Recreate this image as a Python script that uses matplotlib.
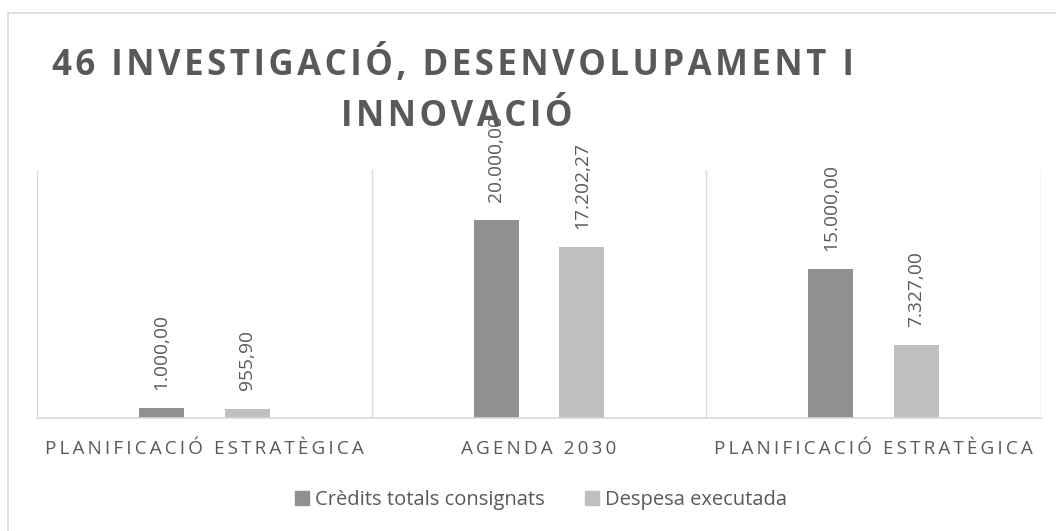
import matplotlib
matplotlib.use("Agg")
import matplotlib.pyplot as plt
from matplotlib.patches import Rectangle, Patch

categories = ["PLANIFICACIÓ ESTRATÈGICA", "AGENDA 2030", "PLANIFICACIÓ ESTRATÈGICA"]
credits = [1000.00, 20000.00, 15000.00]
spent = [955.90, 17202.27, 7327.00]
series_names = ["Crèdits totals consignats", "Despesa executada"]
title_lines = ["46 INVESTIGACIÓ, DESENVOLUPAMENT I", "INNOVACIÓ"]

DARK = "#909090"
LIGHT = "#bfbfbf"
TXT = "#595959"
LINE = "#d9d9d9"
FONT = "Open Sans"

def spaced(s, sep="\u2009"):
    return sep.join(list(s))

def fmt(v):
    s = f"{v:,.2f}"
    return s.replace(",", "X").replace(".", ",").replace("X", ".")

fig = plt.figure(figsize=(10.56, 5.31), dpi=100)
ax = fig.add_axes([37/1056, 1-418/531, (1041-37)/1056, (418-170)/531])

x = list(range(len(categories)))
w = 0.134
off = 0.128
b1 = ax.bar([i - off for i in x], credits, width=w, color=DARK, zorder=2)
b2 = ax.bar([i + off for i in x], spent, width=w, color=LIGHT, zorder=2)

for bars, vals in ((b1, credits), (b2, spent)):
    for rect, v in zip(bars, vals):
        ax.annotate(fmt(v), (rect.get_x() + rect.get_width()/2, rect.get_height()),
                    xytext=(0, 13), textcoords="offset points", rotation=90,
                    ha="center", va="bottom", fontsize=13.8, color=TXT,
                    family=FONT, annotation_clip=False)

ax.set_xlim(-0.5, len(categories) - 0.5)
ax.set_ylim(0, 25000)
ax.set_yticks([])
ax.set_xticks(x)
ax.set_xticklabels([spaced(c) for c in categories], family=FONT, fontsize=13.6, color=TXT)
ax.tick_params(axis="x", length=0, pad=16)
for sp in ("top", "right", "left"):
    ax.spines[sp].set_visible(False)
ax.spines["bottom"].set_color(LINE)
ax.spines["bottom"].set_linewidth(1.2)
for b in [i - 0.5 for i in range(len(categories) + 1)]:
    ax.axvline(b, color=LINE, lw=1.0, zorder=1)

# chart border
fig.patches.append(Rectangle((8/1056, -0.1), 1.2, (531-13)/531 + 0.1, transform=fig.transFigure,
                             fill=False, edgecolor=LINE, lw=1.2))

# title
fig.text(453/1056, 1-75/531, spaced(title_lines[0], "\u200a"), ha="center", va="baseline",
         family=FONT, fontweight="bold", fontsize=25, color=TXT)
fig.text(457/1056, 1-126/531, spaced(title_lines[1], "\u200a"), ha="center", va="baseline",
         family=FONT, fontweight="bold", fontsize=25, color=TXT)

handles = [Patch(color=DARK), Patch(color=LIGHT)]
leg = fig.legend(handles, series_names, loc="center", bbox_to_anchor=(541/1056, 1-500/531),
                 ncol=2, frameon=False, handlelength=0.7, handleheight=0.7,
                 handletextpad=0.3, columnspacing=2.0,
                 prop={"family": FONT, "size": 14.5})
for t in leg.get_texts():
    t.set_color(TXT)

fig.savefig("out.png", dpi=100)
